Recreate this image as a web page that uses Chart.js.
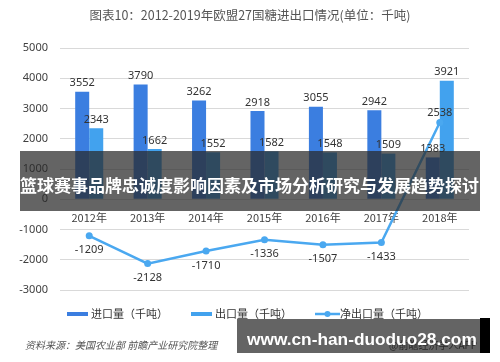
<!DOCTYPE html>
<html>
<head>
<meta charset="utf-8">
<script src="https://cdn.jsdelivr.net/npm/chart.js@4.4.1/dist/chart.umd.min.js"></script>
<style>
    html, body { margin: 0; padding: 0; background: #fff; }
    #wrap { position: relative; width: 500px; height: 362px; overflow: hidden; font-family: "Noto Sans CJK SC", "Noto Sans", sans-serif; }
    #chart { position: absolute; left: 0; top: 0; }
    .title { position: absolute; left: 0; top: 6px; width: 500px; text-align: center; font-size: 12.5px; line-height: 18px; color: #555; }
    .source { position: absolute; left: 25px; top: 338px; font-size: 10px; line-height: 14px; font-style: italic; color: #555; }
    .banner { position: absolute; left: 20px; top: 151px; width: 460px; height: 60px; background: rgba(40, 40, 40, 0.72); }
    .banner-text { position: absolute; left: 20px; top: 175px; width: 460px; font-size: 17px; line-height: 20px; font-weight: bold; color: #fff; white-space: nowrap; }
    .mark { position: absolute; left: 237px; top: 319px; width: 243px; height: 34px; background: rgba(40, 40, 40, 0.72); }
    .mark-edge { position: absolute; left: 480px; top: 318px; width: 10px; height: 35px; background: #000; }
    .mark-sub { position: absolute; left: 389px; top: 339px; font-size: 10px; line-height: 12px; color: #2a2a2a; white-space: nowrap; }
    .mark-text { position: absolute; left: 247px; top: 329px; font-family: "Liberation Sans", Arial, sans-serif; font-size: 17.3px; line-height: 20px; font-weight: bold; color: #fff; white-space: nowrap; }
</style>
</head>
<body>
<div id="wrap">
    <canvas id="chart" width="500" height="362"></canvas>
    <div class="title">图表10：2012-2019年欧盟27国糖进出口情况(单位：千吨)</div>
    <div class="source">资料来源：美国农业部 前瞻产业研究院整理</div>
    <div class="banner"></div>
    <div class="banner-text">篮球赛事品牌忠诚度影响因素及市场分析研究与发展趋势探讨</div>
    <div class="mark"></div>
    <div class="mark-edge"></div>
    <div class="mark-sub">@前瞻经济学人APP</div>
    <div class="mark-text">www.cn-han-duoduo28.com</div>
</div>
<script>
const years = ['2012年', '2013年', '2014年', '2015年', '2016年', '2017年', '2018年'];
const importValues = [3552, 3790, 3262, 2918, 3055, 2942, 1383];
const exportValues = [2343, 1662, 1552, 1582, 1548, 1509, 3921];
const netValues = [-1209, -2128, -1710, -1336, -1507, -1433, 2538];
const yTicks = [5000, 4000, 3000, 2000, 1000, 0, -1000, -2000, -3000];

const textColor = '#404040';
const gridColor = '#d9d9d9';

// value labels above bars, below (or above when positive) the net points
const valueLabels = {
    id: 'valueLabels',
    afterDatasetsDraw(chart) {
        const ctx = chart.ctx;
        ctx.save();
        ctx.font = '11px "Noto Sans", "DejaVu Sans", sans-serif';
        ctx.fillStyle = '#333';
        ctx.textAlign = 'center';
        chart.data.datasets.forEach((ds, i) => {
            const meta = chart.getDatasetMeta(i);
            meta.data.forEach((el, j) => {
                const v = ds.data[j];
                if (ds.type === 'line') {
                    if (v >= 0) {
                        ctx.textBaseline = 'bottom';
                        ctx.fillText(v, el.x, el.y - 4);
                    } else {
                        ctx.textBaseline = 'top';
                        ctx.fillText(v, el.x, el.y + 9);
                    }
                } else {
                    ctx.textBaseline = 'bottom';
                    ctx.fillText(v, el.x, el.y - 3);
                }
            });
        });
        ctx.restore();
    },
};

const bottomLegend = {
    id: 'bottomLegend',
    afterDraw(chart) {
        const ctx = chart.ctx;
        const y = 314;
        ctx.save();
        ctx.font = '11px "Noto Sans CJK SC", sans-serif';
        ctx.textBaseline = 'middle';
        ctx.textAlign = 'left';
        const items = chart.data.datasets.map((ds) => ({
            label: ds.label,
            color: ds.type === 'line' ? ds.borderColor : ds.backgroundColor,
            line: ds.type === 'line',
        }));
        const widths = items.map((it) => (it.line ? 25 : 21) + 3 + ctx.measureText(it.label).width);
        const gap = 23;
        const total = widths.reduce((a, b) => a + b, 0) + gap * (items.length - 1);
        let x = 249 - total / 2;
        items.forEach((it, k) => {
            if (it.line) {
                ctx.strokeStyle = it.color;
                ctx.lineWidth = 2.5;
                ctx.beginPath();
                ctx.moveTo(x, y);
                ctx.lineTo(x + 25, y);
                ctx.stroke();
                ctx.fillStyle = it.color;
                ctx.beginPath();
                ctx.arc(x + 12.5, y, 3, 0, Math.PI * 2);
                ctx.fill();
                ctx.fillStyle = '#333';
                ctx.fillText(it.label, x + 25, y);
            } else {
                ctx.fillStyle = it.color;
                ctx.fillRect(x, y - 2, 21, 4);
                ctx.fillStyle = '#333';
                ctx.fillText(it.label, x + 24, y);
            }
            x += widths[k] + gap;
        });
        ctx.restore();
    },
};

new Chart(document.getElementById('chart'), {
    type: 'bar',
    data: {
        labels: years,
        datasets: [
            {
                label: '进口量（千吨）',
                data: importValues,
                backgroundColor: '#3b7ee0',
                categoryPercentage: 0.48,
                barPercentage: 1.0,
                order: 2,
            },
            {
                label: '出口量（千吨）',
                data: exportValues,
                backgroundColor: '#42a2ee',
                categoryPercentage: 0.48,
                barPercentage: 1.0,
                order: 2,
            },
            {
                label: '净出口量（千吨）',
                data: netValues,
                type: 'line',
                borderColor: '#4aa8f0',
                backgroundColor: '#4aa8f0',
                borderWidth: 2.5,
                pointRadius: 3.5,
                pointBackgroundColor: '#4aa8f0',
                pointBorderWidth: 0,
                tension: 0,
                order: 1,
            },
        ],
    },
    options: {
        responsive: false,
        animation: false,
        layout: {
            padding: { top: 48, bottom: 72, left: 0, right: 31 },
        },
        plugins: {
            legend: { display: false },
            tooltip: { enabled: false },
        },
        scales: {
            x: {
                position: { y: 0 },
                grid: { display: false },
                border: { display: false },
                ticks: {
                    color: textColor,
                    font: { size: 11, family: '"Noto Sans CJK SC", sans-serif' },
                    padding: 4,
                },
            },
            y: {
                min: -3000,
                max: 5000,
                afterBuildTicks(scale) {
                    scale.ticks = yTicks.map((v) => ({ value: v }));
                },
                afterFit(scale) {
                    scale.width = 60;
                },
                grid: { color: gridColor, drawTicks: false },
                border: { display: false },
                ticks: {
                    color: textColor,
                    padding: 12,
                    font: { size: 11, family: '"Noto Sans", sans-serif' },
                    callback: (value) => String(value),
                },
            },
        },
    },
    plugins: [valueLabels, bottomLegend],
});
</script>
</body>
</html>
